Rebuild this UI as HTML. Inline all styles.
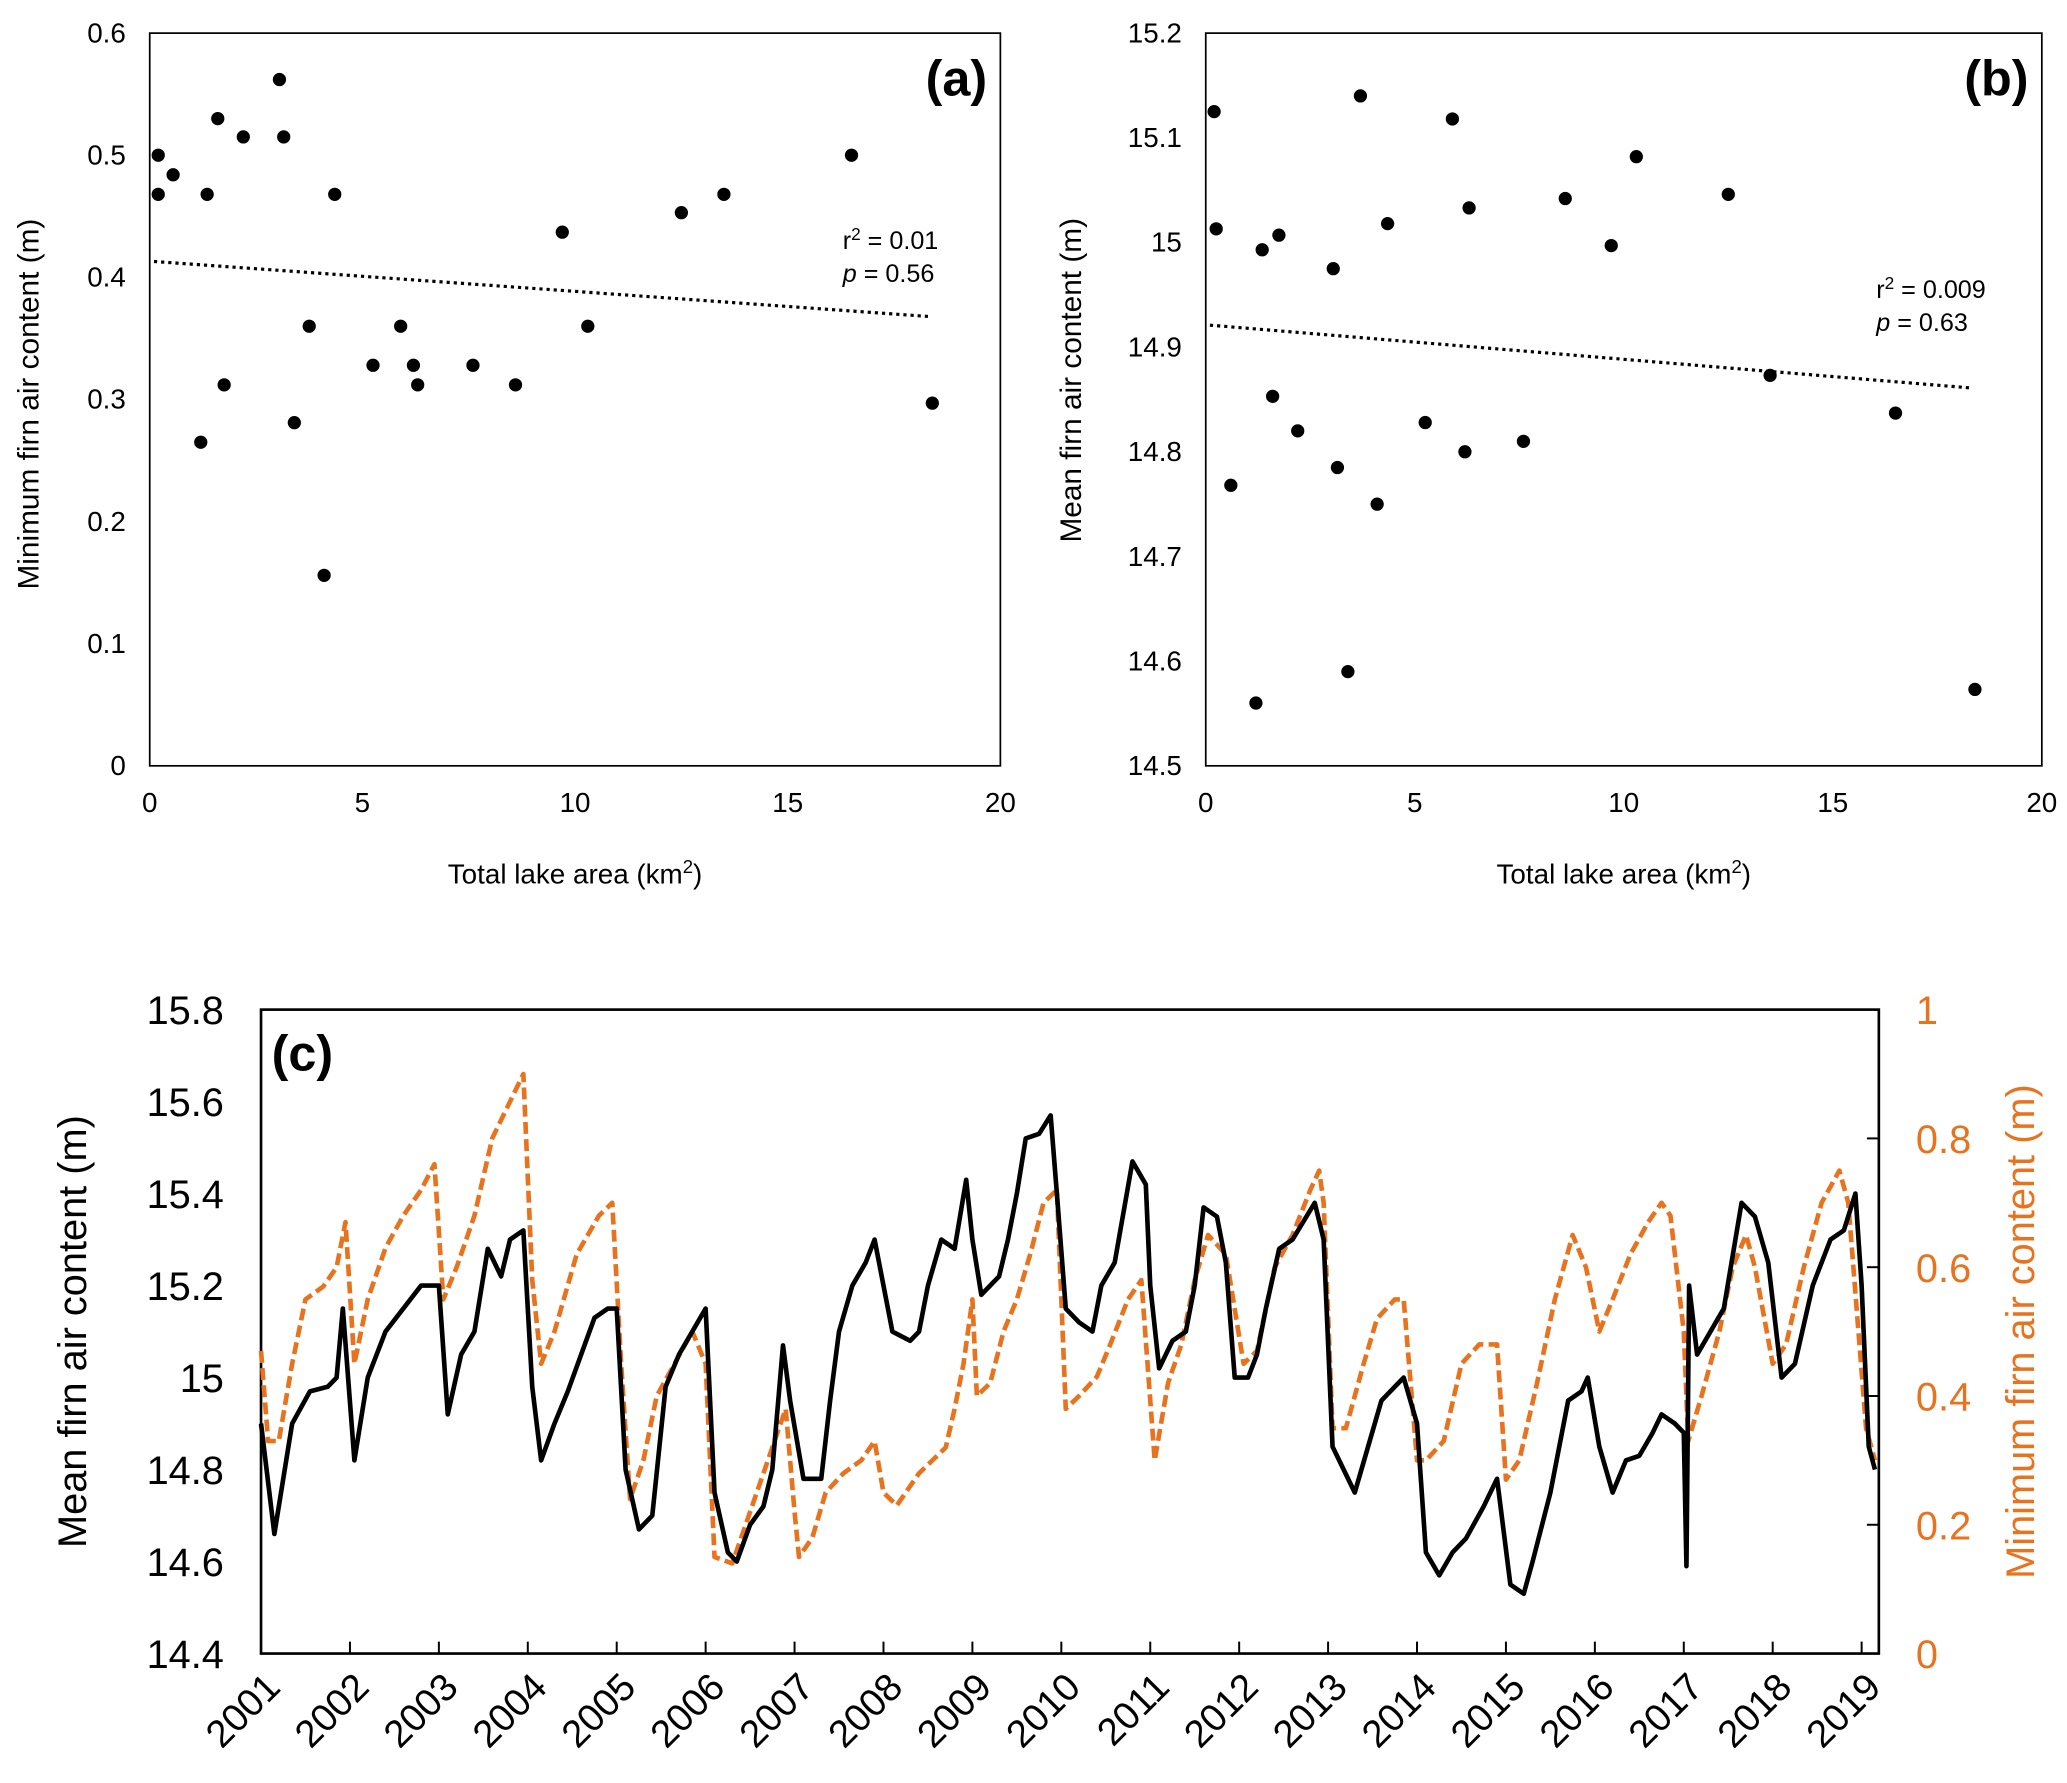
<!DOCTYPE html>
<html><head><meta charset="utf-8"><style>
html,body{margin:0;padding:0;background:#fff}
svg{display:block;font-family:"Liberation Sans",Arial,sans-serif}
</style></head><body>
<svg id="fig" width="2067" height="1783" viewBox="0 0 1560 1345.7" preserveAspectRatio="none" xmlns="http://www.w3.org/2000/svg"></svg>
<script>
// Panel (a) data
const areaA = [0.2,0.2,0.55,1.2,1.35,1.6,1.75,2.2,3.05,3.15,3.4,3.75,4.1,4.35,5.25,5.9,6.2,6.3,7.6,8.6,9.7,10.3,12.5,13.5,16.5,18.4];
const minFac = [0.50,0.468,0.484,0.265,0.468,0.53,0.312,0.515,0.562,0.515,0.281,0.36,0.156,0.468,0.328,0.36,0.328,0.312,0.328,0.312,0.437,0.36,0.453,0.468,0.50,0.297];
// Panel (b) data
const areaB = [0.2,0.25,0.6,1.2,1.35,1.6,1.75,2.2,3.05,3.15,3.4,3.7,4.1,4.35,5.25,5.9,6.2,6.3,7.6,8.6,9.7,10.3,12.5,13.5,16.5,18.4];
const meanFac = [15.125,15.013,14.768,14.56,14.993,14.853,15.007,14.82,14.975,14.785,14.59,15.14,14.75,15.018,14.828,15.118,14.8,15.033,14.81,15.042,14.997,15.082,15.046,14.873,14.837,14.573];
const trendA = [[0.1,0.413],[18.3,0.368]];
const trendB = [[0.1,14.921],[18.3,14.861]];
const xTicksAB = [0,5,10,15,20];
const yTicksA = [0,0.1,0.2,0.3,0.4,0.5,0.6];
const yTicksB = [14.5,14.6,14.7,14.8,14.9,15,15.1,15.2];
// Panel (c) data
const meanT = [2001.0,2001.15,2001.35,2001.55,2001.75,2001.85,2001.92,2002.05,2002.2,2002.4,2002.6,2002.8,2003.0,2003.1,2003.25,2003.4,2003.55,2003.7,2003.8,2003.95,2004.05,2004.15,2004.3,2004.45,2004.6,2004.75,2004.9,2005.0,2005.1,2005.25,2005.4,2005.55,2005.7,2005.85,2006.0,2006.1,2006.25,2006.35,2006.5,2006.65,2006.75,2006.87,2006.95,2007.1,2007.3,2007.4,2007.5,2007.65,2007.8,2007.9,2008.0,2008.1,2008.3,2008.4,2008.5,2008.65,2008.8,2008.93,2009.0,2009.1,2009.3,2009.4,2009.5,2009.6,2009.75,2009.88,2009.95,2010.05,2010.2,2010.35,2010.45,2010.6,2010.8,2010.95,2011.0,2011.1,2011.25,2011.4,2011.5,2011.6,2011.75,2011.85,2011.95,2012.1,2012.2,2012.3,2012.45,2012.6,2012.85,2012.95,2013.05,2013.3,2013.45,2013.6,2013.75,2013.85,2014.0,2014.1,2014.25,2014.4,2014.55,2014.75,2014.9,2015.05,2015.2,2015.3,2015.5,2015.7,2015.85,2015.92,2016.05,2016.2,2016.35,2016.5,2016.65,2016.75,2016.9,2017.0,2017.03,2017.06,2017.15,2017.3,2017.45,2017.65,2017.8,2017.95,2018.1,2018.25,2018.45,2018.65,2018.8,2018.93,2019.0,2019.08,2019.15];
const meanV = [14.9,14.66,14.9,14.97,14.98,15.0,15.15,14.82,15.0,15.1,15.15,15.2,15.2,14.92,15.05,15.1,15.28,15.22,15.3,15.32,14.98,14.82,14.9,14.97,15.05,15.13,15.15,15.15,14.8,14.67,14.7,14.98,15.05,15.1,15.15,14.75,14.62,14.6,14.68,14.72,14.8,15.07,14.95,14.78,14.78,14.95,15.1,15.2,15.25,15.3,15.2,15.1,15.08,15.1,15.2,15.3,15.28,15.43,15.3,15.18,15.22,15.3,15.4,15.52,15.53,15.57,15.4,15.15,15.12,15.1,15.2,15.25,15.47,15.42,15.2,15.02,15.08,15.1,15.2,15.37,15.35,15.25,15.0,15.0,15.05,15.15,15.28,15.3,15.38,15.3,14.85,14.75,14.85,14.95,14.98,15.0,14.9,14.62,14.57,14.62,14.65,14.72,14.78,14.55,14.53,14.6,14.75,14.95,14.97,15.0,14.85,14.75,14.82,14.83,14.88,14.92,14.9,14.88,14.59,15.2,15.05,15.1,15.15,15.38,15.35,15.25,15.0,15.03,15.2,15.3,15.32,15.4,15.2,14.85,14.8];
const minT = [2001.0,2001.08,2001.2,2001.35,2001.5,2001.7,2001.85,2001.95,2002.05,2002.2,2002.4,2002.6,2002.8,2002.95,2003.05,2003.2,2003.4,2003.6,2003.95,2004.05,2004.15,2004.3,2004.55,2004.8,2004.95,2005.05,2005.15,2005.3,2005.45,2005.65,2005.85,2006.0,2006.1,2006.3,2006.5,2006.7,2006.9,2007.0,2007.05,2007.2,2007.35,2007.55,2007.75,2007.9,2008.0,2008.15,2008.4,2008.55,2008.7,2008.8,2008.9,2009.0,2009.05,2009.2,2009.35,2009.5,2009.65,2009.8,2009.95,2010.05,2010.2,2010.4,2010.55,2010.75,2010.9,2011.05,2011.2,2011.35,2011.5,2011.65,2011.85,2012.05,2012.2,2012.4,2012.6,2012.8,2012.9,2012.95,2013.05,2013.2,2013.4,2013.55,2013.75,2013.85,2014.0,2014.1,2014.3,2014.5,2014.7,2014.9,2015.0,2015.15,2015.35,2015.55,2015.75,2015.9,2016.05,2016.2,2016.4,2016.6,2016.75,2016.85,2017.0,2017.05,2017.2,2017.4,2017.55,2017.7,2017.8,2018.0,2018.15,2018.35,2018.55,2018.75,2018.85,2019.05,2019.15];
const minV = [0.47,0.33,0.33,0.45,0.55,0.57,0.6,0.67,0.45,0.55,0.63,0.68,0.72,0.76,0.55,0.6,0.68,0.8,0.9,0.58,0.45,0.5,0.62,0.68,0.7,0.45,0.24,0.3,0.4,0.45,0.5,0.45,0.15,0.14,0.22,0.3,0.38,0.22,0.15,0.18,0.25,0.28,0.3,0.33,0.25,0.23,0.28,0.3,0.32,0.38,0.45,0.55,0.4,0.42,0.5,0.55,0.62,0.7,0.72,0.38,0.4,0.43,0.48,0.55,0.58,0.3,0.42,0.48,0.58,0.65,0.62,0.45,0.47,0.6,0.65,0.72,0.75,0.7,0.35,0.35,0.45,0.52,0.55,0.55,0.3,0.3,0.33,0.45,0.48,0.48,0.27,0.3,0.42,0.55,0.65,0.6,0.5,0.55,0.62,0.67,0.7,0.68,0.5,0.33,0.4,0.5,0.6,0.65,0.6,0.45,0.48,0.6,0.7,0.75,0.7,0.35,0.3];
const years = [2001,2002,2003,2004,2005,2006,2007,2008,2009,2010,2011,2012,2013,2014,2015,2016,2017,2018,2019];
const yTicksCL = [14.4,14.6,14.8,15,15.2,15.4,15.6,15.8];
const yTicksCR = [0,0.2,0.4,0.6,0.8,1];

const NS="http://www.w3.org/2000/svg";
const svg=document.getElementById('fig');
function mk(tag,attrs,parent,txt){const e=document.createElementNS(NS,tag);for(const k in attrs)e.setAttribute(k,attrs[k]);if(txt!==undefined)e.textContent=txt;(parent||svg).appendChild(e);return e;}
function lin(d0,d1,r0,r1){return v=>r0+(v-d0)/(d1-d0)*(r1-r0);}

function scatterPanel(o){
  const g=mk('g',{});
  
  
  const X=lin(0,20,o.x0,o.x1), Y=lin(o.ymin,o.ymax,o.y1,o.y0);
  const box=mk('rect',{x:o.x0,y:o.y0,width:o.x1-o.x0,height:o.y1-o.y0,fill:'none',stroke:'#000','stroke-width':1.3},g);
  
  xTicksAB.forEach(t=>{const e=mk('text',{x:X(t),y:o.y1+35,'text-anchor':'middle','font-size':21},g,String(t));
    });
  o.yt.forEach(t=>{const e=mk('text',{x:o.x0-18,y:Y(t)+7,'text-anchor':'end','font-size':21},g,o.fmt(t));
    });
  const xl=mk('text',{x:(o.x0+o.x1)/2,y:o.y1+89,'text-anchor':'middle','font-size':21},g);
  xl.innerHTML='Total lake area (km<tspan dy="-8" font-size="14">2</tspan><tspan dy="8">)</tspan>';
  
  const yl=mk('text',{x:0,y:0,'text-anchor':'middle','font-size':22.5,transform:`translate(${o.ylx},${o.ylc}) rotate(-90)`},g,o.ylab);
  
  const tl=mk('line',{x1:X(o.trend[0][0]),y1:Y(o.trend[0][1]),x2:X(o.trend[1][0]),y2:Y(o.trend[1][1]),stroke:'#000','stroke-width':2.4,'stroke-dasharray':'2.4 3'},g);
  
  o.xs.forEach((xv,i)=>{const c=mk('circle',{cx:X(xv),cy:Y(o.ys[i]),r:5,fill:'#000'},g);
    });
  const lab=mk('text',{x:o.x1-10,y:o.y0+47,'text-anchor':'end','font-size':38,'font-weight':'bold'},g,o.panel);
  
  const r2=mk('text',{x:o.sx,y:o.sy,'font-size':19},g);
  r2.innerHTML='r<tspan dy="-7" font-size="13">2</tspan><tspan dy="7"> = '+o.r2+'</tspan>';
  
  const p=mk('text',{x:o.sx,y:o.sy+25,'font-size':19},g);
  p.innerHTML='<tspan font-style="italic">p</tspan> = '+o.p;
  
}
scatterPanel({name:'panel-a',x0:113,x1:755,y0:25,y1:578,ymin:0,ymax:0.6,yt:yTicksA,fmt:t=>String(+t.toFixed(1)),ylab:'Minimum firn air content (m)',ylx:29,ylc:305,trend:trendA,xs:areaA,ys:minFac,panel:'(a)',sx:636,sy:188,r2:'0.01',p:'0.56'});
scatterPanel({name:'panel-b',x0:910,x1:1541,y0:25,y1:578,ymin:14.5,ymax:15.2,yt:yTicksB,fmt:t=>String(+t.toFixed(1)),ylab:'Mean firn air content (m)',ylx:816,ylc:287,trend:trendB,xs:areaB,ys:meanFac,panel:'(b)',sx:1416,sy:225,r2:'0.009',p:'0.63'});

// Panel (c)
(function(){
  const g=mk('g',{});
  
  
  const x0=197,x1=1418,y0=762,y1=1248,orange='#E8731E';
  const X=lin(2001,2019,197,1405), YL=lin(14.4,15.8,y1,y0), YR=lin(0,1,y1,y0);
  const box=mk('rect',{x:x0,y:y0,width:x1-x0,height:y1-y0,fill:'none',stroke:'#000','stroke-width':2},g);
  
  years.forEach(yv=>{const x=X(yv);
    const tk=mk('line',{x1:x,y1:y1,x2:x,y2:y1-9,stroke:'#000','stroke-width':1.5},g);
    
    const t=mk('text',{x:0,y:0,'text-anchor':'end','font-size':29,transform:`translate(${x+16},${y1+27}) rotate(-45)`},g,String(yv));
    });
  yTicksCL.forEach(t=>{const e=mk('text',{x:x0-28,y:YL(t)+11,'text-anchor':'end','font-size':30},g,String(+t.toFixed(1)));
    });
  yTicksCR.forEach(t=>{
    if(t>0&&t<1){const tk=mk('line',{x1:x1,y1:YR(t),x2:x1-9,y2:YR(t),stroke:'#000','stroke-width':1.5},g);
      }
    const e=mk('text',{x:x1+28,y:YR(t)+11,'font-size':30,fill:orange},g,String(+t.toFixed(1)));
    });
  const yl=mk('text',{x:0,y:0,'text-anchor':'middle','font-size':30,transform:`translate(65,1005) rotate(-90)`},g,'Mean firn air content (m)');
  
  const yr=mk('text',{x:0,y:0,'text-anchor':'middle','font-size':30,fill:orange,transform:`translate(1535,1005) rotate(-90)`},g,'Minimum firn air content (m)');
  
  const po=mk('polyline',{points:minT.map((t,i)=>X(t)+','+YR(minV[i])).join(' '),fill:'none',stroke:orange,'stroke-width':3.5,'stroke-dasharray':'9 4','stroke-linejoin':'round'},g);
  
  const pb=mk('polyline',{points:meanT.map((t,i)=>X(t)+','+YL(meanV[i])).join(' '),fill:'none',stroke:'#000','stroke-width':3.5,'stroke-linejoin':'round'},g);
  
  const lab=mk('text',{x:205,y:808,'font-size':38,'font-weight':'bold'},g,'(c)');
  
})();
</script>
</body></html>
